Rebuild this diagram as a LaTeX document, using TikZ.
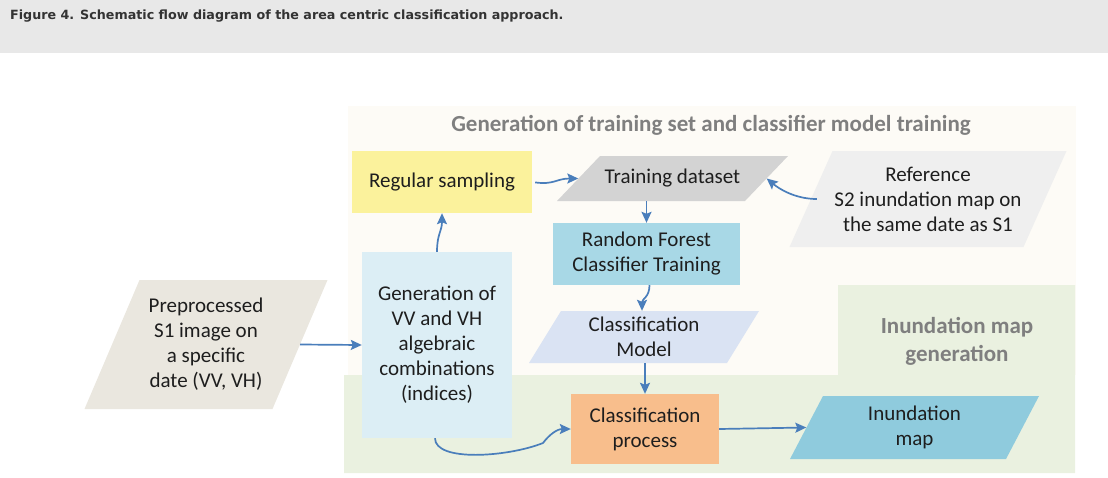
\documentclass[tikz,border=0pt]{standalone}
\usepackage{fontspec}
\setmainfont{Carlito}
\newfontfamily\capfont{DejaVu Sans}
\usetikzlibrary{arrows.meta}
\definecolor{bandc}{HTML}{E8E8E8}
\definecolor{capc}{HTML}{333333}
\definecolor{creamc}{HTML}{FDFBF6}
\definecolor{greenc}{HTML}{EAF1E0}
\definecolor{sectc}{HTML}{7F7F7F}
\definecolor{textc}{HTML}{1E1E1E}
\definecolor{arrowc}{HTML}{4A7EBB}
\definecolor{yellowc}{HTML}{FBF29C}
\definecolor{grayc}{HTML}{D3D3D3}
\definecolor{refc}{HTML}{EFEFEF}
\definecolor{rfc}{HTML}{A8D8E6}
\definecolor{genc}{HTML}{DCEEF5}
\definecolor{prec}{HTML}{EAE7DF}
\definecolor{cmc}{HTML}{DAE3F3}
\definecolor{cpc}{HTML}{F8BE8C}
\definecolor{imc}{HTML}{8FCBDD}
% name, cx, cy, w (mid width), h, slant half-offset, colour, text
\newcommand\parabox[8]{%
  \fill[#7] (#2-#4/2-#6,#3+#5/2) -- (#2+#4/2-#6,#3+#5/2) -- (#2+#4/2+#6,#3-#5/2) -- (#2-#4/2+#6,#3-#5/2) -- cycle;
  \node[boxtext,minimum width=#4pt,minimum height=#5pt] (#1) at (#2,#3) {#8};}
\begin{document}
\begin{tikzpicture}[x=1pt,y=-1pt,
  boxtext/.style={inner sep=0pt,align=center,text=textc,font=\fontsize{21}{25}\selectfont},
  rectbox/.style={boxtext,fill=#1},
  secttext/.style={inner sep=0pt,align=center,text=sectc,font=\fontsize{23}{28}\selectfont\bfseries},
  arr/.style={draw=arrowc,line width=1.7pt,-{Stealth[length=11pt,width=10pt,inset=2pt]}}]
\useasboundingbox (0,0) rectangle (1108,477);
% caption band
\fill[bandc] (0,0) rectangle (1108,53);
\node[anchor=base west,inner sep=0pt,text=capc,font=\capfont\fontsize{12.7}{15}\selectfont\bfseries] (caption) at (10,19) {Figure 4. Schematic flow diagram of the area centric classification approach.};
% regions
\fill[creamc] (348,106) rectangle (1076,375);
\fill[greenc] (344,375) -- (838,375) -- (838,285) -- (1075,285) -- (1075,473) -- (344,473) -- cycle;
\node[secttext] (title1) at (711,125) {Generation of training set and classifier model training};
\node[secttext] (title2) at (957,341) {Inundation map\\generation};
% parallelograms
\parabox{train}{672.5}{178.5}{188}{45}{21.5}{grayc}{Training dataset}
\parabox{ref}{928}{199}{234}{96}{21.5}{refc}{Reference\\S2 inundation map on\\the same date as S1}
\parabox{pre}{206}{344.5}{188}{129}{27.5}{prec}{Preprocessed\\S1 image on\\a specific\\date (VV, VH)}
\parabox{cm}{644}{337}{198}{52}{16}{cmc}{Classification\\Model}
\parabox{im}{914.5}{427.5}{216}{63}{16.5}{imc}{Inundation\\map}
% rectangles
\node[rectbox=yellowc,minimum width=180pt,minimum height=62pt] (reg) at (442,182) {Regular sampling};
\node[rectbox=rfc,minimum width=187pt,minimum height=62pt] (rf) at (646.5,254) {Random Forest\\Classifier Training};
\node[rectbox=genc,minimum width=150pt,minimum height=186pt] (gen) at (437,345) {Generation of\\VV and VH\\algebraic\\combinations\\(indices)};
\node[rectbox=cpc,minimum width=148pt,minimum height=70pt] (cp) at (645,429) {Classification\\process};
% connectors
\draw[arr] (pre.east) -- (gen.west);
\draw[arr] (gen.north) .. controls +(0,-18) and +(0,18) .. (reg.south);
\draw[arr,shorten <=3pt] (reg.east) .. controls +(22,3) and +(-22,0) .. (train.west);
\draw[arr] ([xshift=6pt]ref.west) .. controls +(-22,0) and +(12,10) .. (train.east);
\draw[arr] (rf.north |- train.south) -- (rf.north);
\draw[arr] ([xshift=3pt]rf.south) .. controls +(0,12) and +(0,-12) .. ([xshift=-2pt]cm.north |- cm.north);
\draw[arr] (cp.north |- cm.south) -- (cp.north);
\coordinate (bend) at (543,443);
\draw[arr] ([xshift=-2pt]gen.south) .. controls +(0,24) and +(-35,14) .. (bend) .. controls +(6,-8) and +(-14,0) .. (cp.west);
\draw[arr] (cp.east) -- (im.west);
\end{tikzpicture}
\end{document}
